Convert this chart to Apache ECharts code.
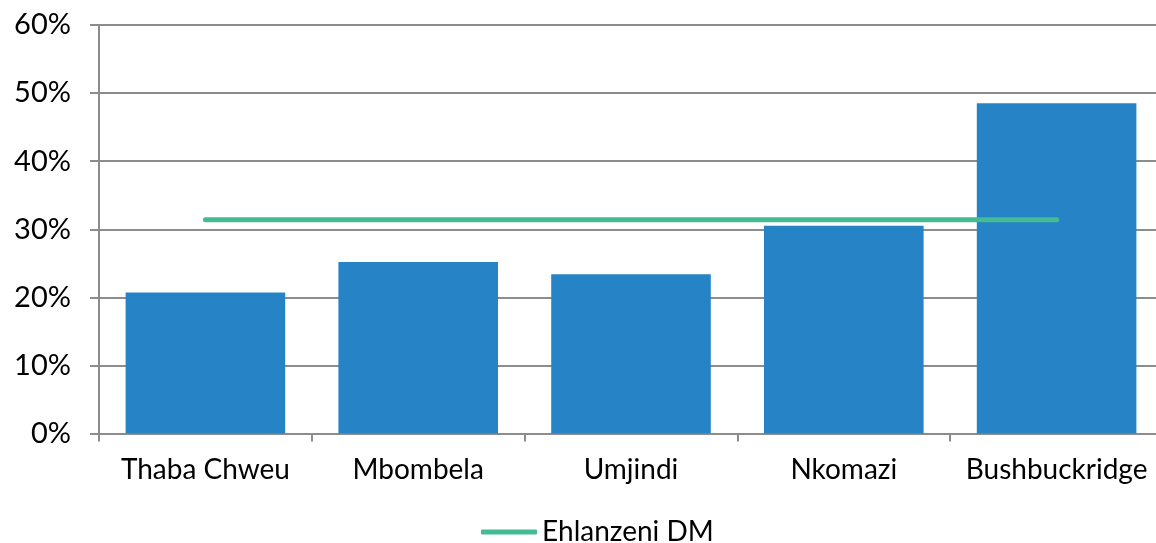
<!DOCTYPE html>
<html>
<head>
<meta charset="utf-8">
<script src="https://cdn.jsdelivr.net/npm/echarts@6/dist/echarts.min.js"></script>
<style>
  html, body { margin: 0; padding: 0; background: #fff; }
  #chart { width: 1156px; height: 543px; }
</style>
</head>
<body>
<div id="chart"></div>
<script>
// Share by local municipality, with the district average as a reference line
const categories = ['Thaba Chweu', 'Mbombela', 'Umjindi', 'Nkomazi', 'Bushbuckridge'];
const municipalValues = [0.207, 0.252, 0.234, 0.305, 0.485];
const districtValues = [0.314, 0.314, 0.314, 0.314, 0.314];
const districtName = 'Ehlanzeni DM';
const yTicks = { min: 0, max: 0.6, interval: 0.1 };

const FONT = 'Lato';
const chart = echarts.init(document.getElementById('chart'), null, { renderer: 'canvas' });

chart.setOption({
  animation: false,
  textStyle: { fontFamily: FONT },
  // the plot runs a little past the right edge of the canvas
  grid: { left: 99, top: 25, width: 1064, height: 408.5, containLabel: false, outerBoundsMode: 'none' },
  legend: {
    data: [{ name: districtName }],
    top: 518,
    left: 481,
    padding: 0,
    itemWidth: 56,
    itemHeight: 5,
    itemGap: 4,
    icon: 'roundRect',
    textStyle: { fontFamily: FONT, fontSize: 28, color: '#000' }
  },
  xAxis: {
    type: 'category',
    data: categories,
    axisLine: { lineStyle: { color: '#8c8c8c', width: 2 } },
    axisTick: { show: true, interval: 0, length: 8, lineStyle: { color: '#8c8c8c', width: 2 } },
    axisLabel: { interval: 0, fontSize: 28, color: '#000', margin: 22, fontFamily: FONT, hideOverlap: false }
  },
  yAxis: {
    type: 'value',
    min: yTicks.min,
    max: yTicks.max,
    interval: yTicks.interval,
    axisLine: { show: true, lineStyle: { color: '#8c8c8c', width: 2 } },
    axisTick: { show: true, length: 9, lineStyle: { color: '#8c8c8c', width: 2 } },
    splitLine: { lineStyle: { color: '#8c8c8c', width: 2 } },
    axisLabel: {
      fontSize: 29, color: '#000', margin: 28, fontFamily: FONT,
      formatter: v => Math.round(v * 100) + '%'
    }
  },
  series: [
    {
      name: 'Municipalities',
      type: 'bar',
      data: municipalValues,
      barCategoryGap: '25%',
      itemStyle: { color: '#2683C6' }
    },
    {
      name: districtName,
      type: 'line',
      data: districtValues,
      symbol: 'none',
      lineStyle: { color: '#43BC94', width: 5, cap: 'round' },
      itemStyle: { color: '#43BC94' }
    }
  ]
});
</script>
</body>
</html>
